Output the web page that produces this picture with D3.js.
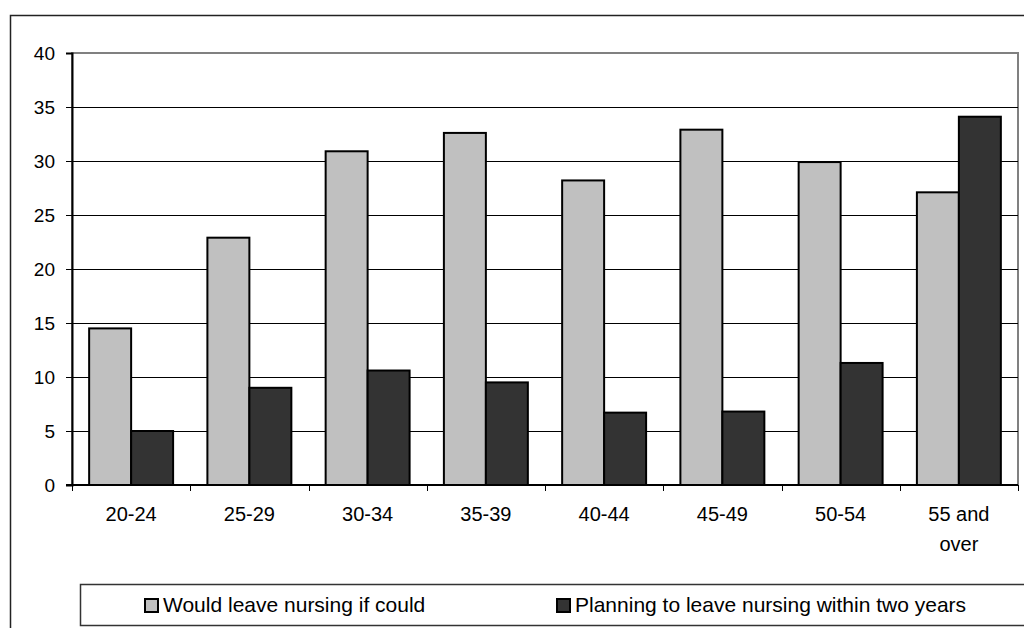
<!DOCTYPE html>
<html>
<head>
<meta charset="utf-8">
<script src="https://cdn.jsdelivr.net/npm/d3@7"></script>
<style>
  html, body { margin: 0; padding: 0; background: #fff; }
  svg { display: block; font-family: "Liberation Sans", Arial, sans-serif; }
</style>
</head>
<body>
<svg id="chart" width="1024" height="628"></svg>
<script>
// Age groups and survey percentages
const categories = ["20-24", "25-29", "30-34", "35-39", "40-44", "45-49", "50-54", "55 and over"];
const categoryLines = [["20-24"], ["25-29"], ["30-34"], ["35-39"], ["40-44"], ["45-49"], ["50-54"], ["55 and", "over"]];
const seriesNames = ["Would leave nursing if could", "Planning to leave nursing within two years"];
const wouldLeave = [14.5, 22.9, 30.9, 32.6, 28.2, 32.9, 29.9, 27.1];
const planningToLeave = [5.0, 9.0, 10.6, 9.5, 6.7, 6.8, 11.3, 34.1];
const yTicks = [0, 5, 10, 15, 20, 25, 30, 35, 40];
const seriesColors = ["#c0c0c0", "#333333"];

const svg = d3.select("#chart");
const plot = { left: 72, right: 1018, top: 53, bottom: 485 };
const tickFont = 19;
const labelFont = 20;
const legendFont = 21;

// Outer chart frame (extends past the right and bottom edges)
svg.append("rect")
  .attr("x", 10.5).attr("y", 15.5)
  .attr("width", 1040).attr("height", 640)
  .attr("fill", "#fff").attr("stroke", "#222").attr("stroke-width", 1.5);

const x0 = d3.scaleBand().domain(categories).range([plot.left, plot.right]).padding(0);
const groupWidth = x0.bandwidth() * 0.71;
const x1 = d3.scaleBand().domain(seriesNames).range([0, groupWidth]).padding(0);
const y = d3.scaleLinear().domain([0, 40]).range([plot.bottom, plot.top]);

// Plot area border
svg.append("rect")
  .attr("x", plot.left).attr("y", plot.top)
  .attr("width", plot.right - plot.left).attr("height", plot.bottom - plot.top)
  .attr("fill", "none").attr("stroke", "#808080").attr("stroke-width", 2);

// Horizontal gridlines
svg.append("g")
  .selectAll("line")
  .data(yTicks.filter(t => t > 0 && t < 40))
  .join("line")
  .attr("x1", plot.left).attr("x2", plot.right)
  .attr("y1", d => Math.round(y(d)) + 0.5).attr("y2", d => Math.round(y(d)) + 0.5)
  .attr("stroke", "#000").attr("stroke-width", 1);

// Y axis
const yAxis = svg.append("g")
  .attr("transform", `translate(${plot.left},0)`)
  .call(d3.axisLeft(y).tickValues(yTicks).tickSize(6).tickPadding(11));
yAxis.select(".domain").attr("stroke", "#000").attr("stroke-width", 2);
yAxis.selectAll(".tick line").attr("stroke", "#000");
yAxis.selectAll(".tick text")
  .attr("font-size", tickFont).attr("font-family", "Liberation Sans, Arial, sans-serif")
  .attr("fill", "#000");

// Bars
const rows = categories.map((c, i) => ({ cat: c, values: [wouldLeave[i], planningToLeave[i]] }));
const offset = (x0.bandwidth() - groupWidth) / 2;
svg.append("g")
  .selectAll("g")
  .data(rows)
  .join("g")
  .attr("transform", d => `translate(${x0(d.cat) + offset},0)`)
  .selectAll("rect")
  .data(d => d.values.map((v, j) => ({ name: seriesNames[j], value: v, j })))
  .join("rect")
  .attr("x", d => x1(d.name))
  .attr("y", d => y(d.value))
  .attr("width", x1.bandwidth())
  .attr("height", d => y(0) - y(d.value))
  .attr("fill", d => seriesColors[d.j])
  .attr("stroke", "#000").attr("stroke-width", 2);

// X axis: baseline and boundary ticks
const xAxis = svg.append("g");
xAxis.append("line")
  .attr("x1", plot.left - 6).attr("x2", plot.right)
  .attr("y1", plot.bottom).attr("y2", plot.bottom)
  .attr("stroke", "#000").attr("stroke-width", 2);
xAxis.selectAll("line.tick")
  .data(categories.map(c => x0(c)).concat([plot.right]))
  .join("line")
  .attr("class", "tick")
  .attr("x1", d => Math.round(d) + 0.5).attr("x2", d => Math.round(d) + 0.5)
  .attr("y1", plot.bottom).attr("y2", plot.bottom + 6)
  .attr("stroke", "#000");

// Category labels
const labels = svg.append("g")
  .selectAll("text")
  .data(categories.map((c, i) => ({ cat: c, lines: categoryLines[i] })))
  .join("text")
  .attr("text-anchor", "middle")
  .attr("font-size", labelFont)
  .attr("fill", "#000");
labels.selectAll("tspan")
  .data(d => d.lines.map((l, k) => ({ l, k, cat: d.cat })))
  .join("tspan")
  .attr("x", d => x0(d.cat) + x0.bandwidth() / 2)
  .attr("y", d => 521 + d.k * 30)
  .text(d => d.l);

// Legend
const legend = svg.append("g");
legend.append("rect")
  .attr("x", 80.5).attr("y", 584.5)
  .attr("width", 1000).attr("height", 41)
  .attr("fill", "#fff").attr("stroke", "#333").attr("stroke-width", 1.5);
const legendX = [145, 557];
seriesNames.forEach((name, j) => {
  legend.append("rect")
    .attr("x", legendX[j]).attr("y", 599)
    .attr("width", 13).attr("height", 13)
    .attr("fill", seriesColors[j]).attr("stroke", "#000").attr("stroke-width", 2);
  legend.append("text")
    .attr("x", legendX[j] + 18).attr("y", 612)
    .attr("font-size", legendFont)
    .attr("fill", "#000")
    .text(name);
});
</script>
</body>
</html>
